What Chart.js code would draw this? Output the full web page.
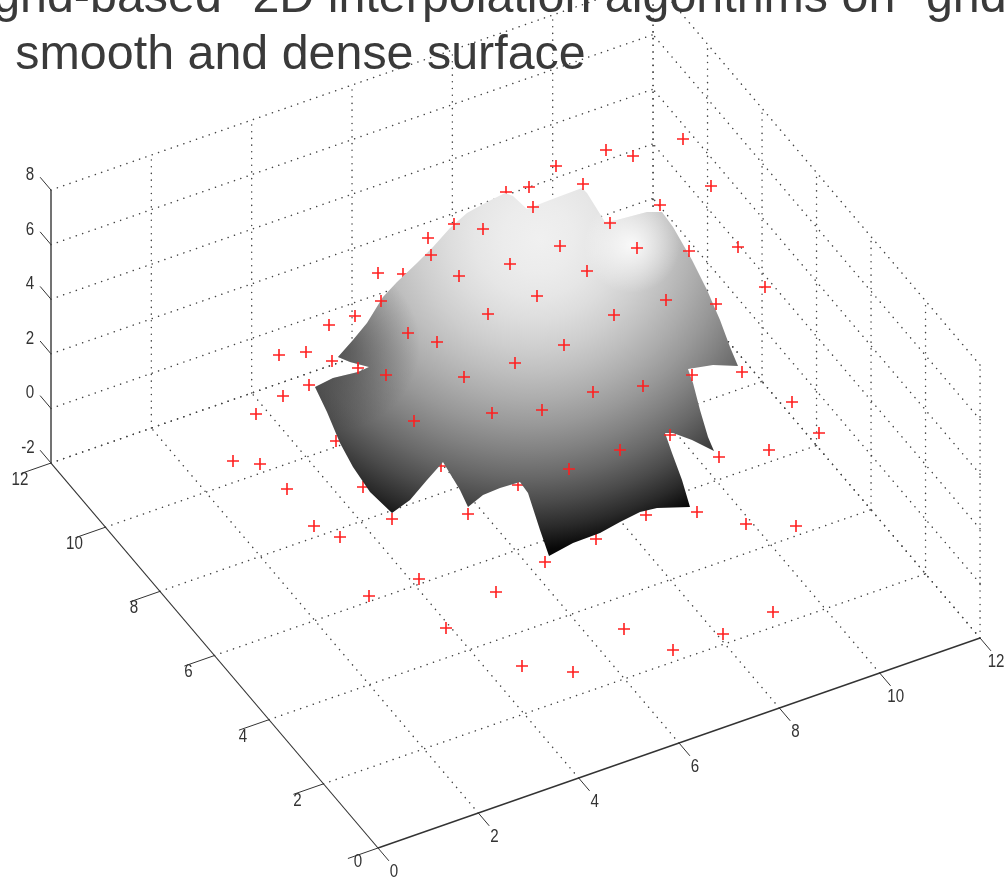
<!DOCTYPE html>
<html>
<head>
<meta charset="utf-8">
<title>surface</title>
<script src="https://cdn.jsdelivr.net/npm/chart.js@4/dist/chart.umd.min.js"></script>
<style>
  html, body { margin: 0; padding: 0; background: #fff; overflow: hidden; }
  #box { position: relative; width: 1004px; height: 879px; }
</style>
</head>
<body>
<div id="box"><canvas id="chart"></canvas></div>
<script>
// axis tick values of the 3D box
const xTicks = [0, 2, 4, 6, 8, 10, 12];
const yTicks = [0, 2, 4, 6, 8, 10, 12];
const zTicks = [-2, 0, 2, 4, 6, 8];

// slide text
const slideLines = ['"grid-based" 2D interpolation algorithms on "grid', 'e smooth and dense surface'];

// red sample crosses (view plane units)
const crossU = [683, 606, 633, 556, 583, 529, 711, 533, 660, 454, 483, 610, 428, 431, 738, 560, 637, 689, 378, 510, 459, 587, 765, 537, 381, 716, 666, 488, 355, 614, 329, 408, 437, 564, 306, 279, 332, 515, 358, 386, 464, 692, 742, 643, 593, 309, 283, 792, 256, 492, 542, 414, 819, 670, 620, 233, 260, 719, 769, 569, 287, 468, 392, 697, 746, 796, 545, 314, 340, 419, 496, 369, 773, 624, 446, 723, 673, 522, 573];
const crossV = [139, 150, 156, 166, 184, 187, 186, 207, 205, 224, 229, 223, 238, 255, 247, 246, 248, 251, 273, 264, 276, 271, 287, 296, 301, 304, 300, 314, 316, 315, 325, 333, 342, 345, 352, 355, 361, 363, 368, 375, 377, 375, 372, 386, 392, 385, 396, 402, 414, 413, 410, 421, 433, 435, 450, 461, 464, 457, 450, 469, 489, 514, 519, 512, 524, 526, 562, 526, 537, 579, 592, 596, 612, 629, 628, 634, 650, 666, 672];

// crosses that sit behind the surface rim
const behindU = [506, 403, 336, 441, 518, 363, 646, 596];
const behindV = [192, 274, 441, 466, 485, 487, 515, 539];

// outline of the interpolated surface (view plane units)
const edgeU = [315, 333, 358, 369, 350, 338, 353, 367, 383, 397, 417, 433, 450, 467, 487, 505, 513, 527, 550, 582, 587, 605, 617, 647, 662, 673, 692, 707, 720, 730, 738, 713, 688, 693, 700, 708, 714, 692, 673, 665, 672, 682, 690, 657, 640, 620, 600, 573, 549, 540, 528, 520, 500, 483, 468, 460, 443, 427, 410, 392, 370, 353, 340, 327, 315];
const edgeV = [387, 378, 372, 367, 362, 357, 340, 323, 297, 282, 263, 247, 228, 213, 202, 193, 196, 209, 200, 188, 193, 222, 220, 212, 212, 227, 260, 290, 320, 347, 366, 365, 369, 383, 410, 437, 451, 440, 433, 433, 453, 480, 507, 508, 512, 522, 533, 543, 556, 530, 493, 482, 488, 495, 507, 490, 462, 480, 500, 513, 492, 467, 443, 412, 387];

// gray level of the surface against distance from its crown
const shadeDist = [0, 0.1, 0.18, 0.25, 0.34, 0.42, 0.5, 0.58, 0.66, 0.74, 0.82, 0.9, 0.97];
const shadeGray = [240, 236, 230, 221, 206, 190, 172, 152, 129, 104, 75, 42, 8];

// screen layout of the MATLAB box
const origin = { u: 378, v: 848 };
const xStep = { u: 50.17, v: -17.5 };
const yStep = { u: -27.25, v: -32.08 };
const zStep = -27.3;

function project(x, y, z) {
    return {
        x: origin.u + x * xStep.u + y * yStep.u,
        y: origin.v + x * xStep.v + y * yStep.v + (z + 2) * zStep
    };
}

function seg(a, b, color, dash, width, order) {
    return {
        type: 'line',
        data: [a, b],
        borderColor: color,
        borderWidth: width,
        borderDash: dash,
        borderCapStyle: dash.length ? 'round' : 'butt',
        pointRadius: 0,
        fill: false,
        tension: 0,
        order: order
    };
}

function crosses(us, vs, order) {
    return {
        type: 'scatter',
        data: us.map((u, i) => ({ x: u, y: vs[i] })),
        pointStyle: 'cross',
        pointRadius: 6,
        pointBorderColor: '#ff1f1f',
        pointBorderWidth: 1.6,
        showLine: false,
        order: order
    };
}

const datasets = [];
const xEnd = xTicks[xTicks.length - 1];
const yEnd = yTicks[yTicks.length - 1];
const zLow = zTicks[0];
const zHigh = zTicks[zTicks.length - 1];
const dots = [0.1, 6.6];
const dotColor = '#444';

// dotted grid on the floor and both back walls
xTicks.slice(1).forEach(x => {
    datasets.push(seg(project(x, 0, zLow), project(x, yEnd, zLow), dotColor, dots, 1.5, 10));
    datasets.push(seg(project(x, yEnd, zLow), project(x, yEnd, zHigh), dotColor, dots, 1.5, 10));
});
xTicks.slice(0, 1).forEach(x => {
    datasets.push(seg(project(x, yEnd, zLow), project(x, yEnd, zHigh), '#444', [], 1.5, 9));
});
yTicks.slice(1).forEach(y => {
    datasets.push(seg(project(0, y, zLow), project(xEnd, y, zLow), dotColor, dots, 1.5, 10));
});
yTicks.forEach(y => {
    datasets.push(seg(project(xEnd, y, zLow), project(xEnd, y, zHigh), dotColor, dots, 1.5, 10));
});
zTicks.forEach(z => {
    datasets.push(seg(project(0, yEnd, z), project(xEnd, yEnd, z), dotColor, dots, 1.5, 10));
    datasets.push(seg(project(xEnd, 0, z), project(xEnd, yEnd, z), dotColor, dots, 1.5, 10));
});

// solid axes and tick marks
datasets.push(seg(project(0, 0, zLow), project(xEnd, 0, zLow), '#333', [], 1.4, 9));
datasets.push(seg(project(0, 0, zLow), project(0, yEnd, zLow), '#333', [], 1.1, 9));
xTicks.forEach(x => datasets.push(seg(project(x, 0, zLow), project(x, -0.4, zLow), '#333', [], 1, 9)));
yTicks.forEach(y => datasets.push(seg(project(0, y, zLow), project(-0.6, y, zLow), '#333', [], 1, 9)));
zTicks.forEach(z => datasets.push(seg(project(0, yEnd, z), project(0, yEnd + 0.4, z), '#333', [], 1, 9)));

datasets.push(crosses(behindU, behindV, 6));

const edge = edgeU.map((u, i) => ({ x: u, y: edgeV[i] }));

function surfaceLayer(paint, order) {
    return {
        type: 'line',
        data: edge,
        showLine: true,
        borderWidth: 0,
        pointRadius: 0,
        tension: 0,
        fill: 'shape',
        order: order,
        backgroundColor: ctx => {
            const chart = ctx.chart;
            if (!chart.chartArea) return 'rgba(0,0,0,0)';
            return paint(chart.ctx, chart.scales.x, chart.scales.y);
        }
    };
}

// main dome
datasets.push(surfaceLayer((c, sx, sy) => {
    const g = c.createRadialGradient(sx.getPixelForValue(540), sy.getPixelForValue(240), 0,
        sx.getPixelForValue(520), sy.getPixelForValue(215), 345);
    shadeDist.forEach((d, i) => {
        const v = shadeGray[i];
        g.addColorStop(d, `rgb(${v},${v},${v})`);
    });
    return g;
}, 5));
// crease by the left tips
datasets.push(surfaceLayer((c, sx, sy) => {
    const g = c.createRadialGradient(sx.getPixelForValue(335), sy.getPixelForValue(345), 0,
        sx.getPixelForValue(335), sy.getPixelForValue(345), 85);
    g.addColorStop(0, 'rgba(20,20,20,0.45)');
    g.addColorStop(1, 'rgba(20,20,20,0)');
    return g;
}, 4));
// bright bump near the back right corner
datasets.push(surfaceLayer((c, sx, sy) => {
    const g = c.createRadialGradient(sx.getPixelForValue(632), sy.getPixelForValue(245), 0,
        sx.getPixelForValue(632), sy.getPixelForValue(245), 48);
    g.addColorStop(0, 'rgba(255,255,255,0.85)');
    g.addColorStop(1, 'rgba(255,255,255,0)');
    return g;
}, 3));

datasets.push(crosses(crossU, crossV, 0));

// slide text and box tick labels
const textPlugin = {
    id: 'boxText',
    afterDraw(chart) {
        const c = chart.ctx;
        const sx = chart.scales.x;
        const sy = chart.scales.y;
        c.save();
        c.textBaseline = 'alphabetic';
        c.textAlign = 'left';
        c.fillStyle = '#3a3a3a';
        c.font = '48.4px "Liberation Sans"';
        c.fillText(slideLines[0], sx.getPixelForValue(-24), sy.getPixelForValue(12));
        c.fillText(slideLines[1], sx.getPixelForValue(-25), sy.getPixelForValue(69));

        c.font = '18px "Liberation Sans"';
        c.fillStyle = '#333';
        c.textAlign = 'center';
        c.textBaseline = 'middle';
        // MATLAB digits are narrow, squeeze them a bit
        const put = (txt, p, du, dv) => {
            c.save();
            c.translate(sx.getPixelForValue(p.x + du), sy.getPixelForValue(p.y + dv));
            c.scale(0.84, 1);
            c.fillText(txt, 0, 0);
            c.restore();
        };
        xTicks.forEach(x => put(String(x), project(x, 0, zLow), 16, 24));
        yTicks.forEach(y => put(String(y), project(0, y, zLow), y >= 10 ? -31 : (y === 0 ? -20 : -26), y === 0 ? 14 : 17));
        zTicks.forEach(z => put(String(z), project(0, yEnd, z), z < 0 ? -23 : -21, -15));
        c.restore();
    }
};

new Chart(document.getElementById('chart'), {
    data: { datasets: datasets },
    options: {
        responsive: true,
        maintainAspectRatio: false,
        animation: false,
        layout: { padding: 0, autoPadding: false },
        plugins: { legend: { display: false }, tooltip: { enabled: false }, title: { display: false } },
        scales: {
            x: { type: 'linear', min: 0, max: 1004, display: false },
            y: { type: 'linear', min: 0, max: 879, reverse: true, display: false }
        }
    },
    plugins: [textPlugin]
});
</script>
</body>
</html>
